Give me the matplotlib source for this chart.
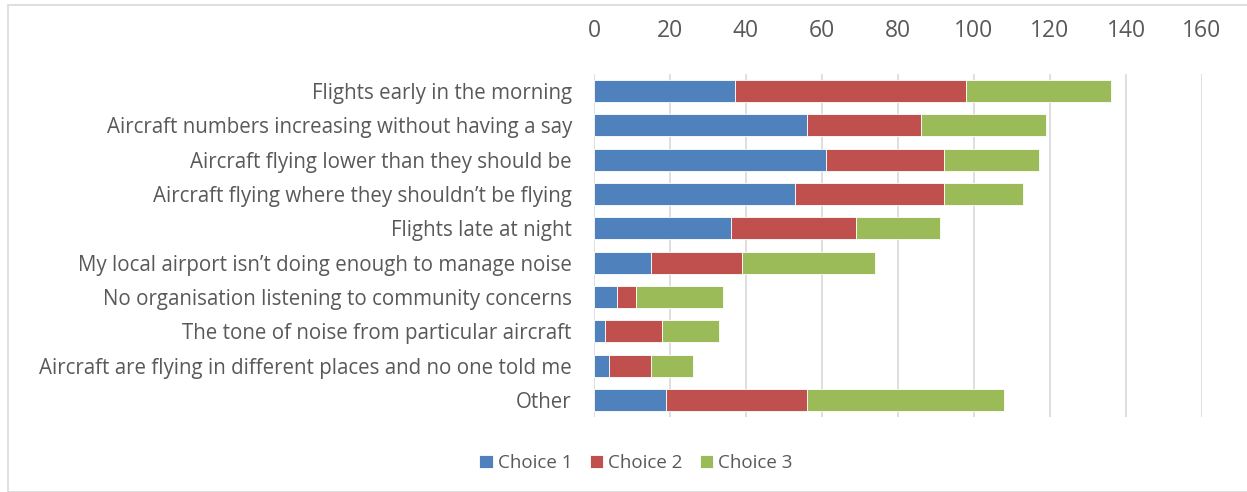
import matplotlib
matplotlib.use("Agg")
import matplotlib.pyplot as plt
from matplotlib.patches import Rectangle
import numpy as np

categories = [
    "Flights early in the morning",
    "Aircraft numbers increasing without having a say",
    "Aircraft flying lower than they should be",
    "Aircraft flying where they shouldn\u2019t be flying",
    "Flights late at night",
    "My local airport isn\u2019t doing enough to manage noise",
    "No organisation listening to community concerns",
    "The tone of noise from particular aircraft",
    "Aircraft are flying in different places and no one told me",
    "Other",
]
choice1 = [37, 56, 61, 53, 36, 15, 6, 3, 4, 19]
choice2 = [61, 30, 31, 39, 33, 24, 5, 15, 11, 37]
choice3 = [38, 33, 25, 21, 22, 35, 23, 15, 11, 52]
series_names = ["Choice 1", "Choice 2", "Choice 3"]
colors = ["#4F81BD", "#C0504D", "#9BBB59"]
xticks = [0, 20, 40, 60, 80, 100, 120, 140, 160]

plt.rcParams['font.family'] = ['Open Sans', 'DejaVu Sans']

W, H = 1247, 492
fig = plt.figure(figsize=(W / 100, H / 100), dpi=100)
ax = fig.add_axes([594 / W, 1 - 417 / H, (1202 - 594) / W, (417 - 74) / H])

y = np.arange(len(categories))
left = np.zeros(len(categories))
for vals, name, c in zip([choice1, choice2, choice3], series_names, colors):
    ax.barh(y, vals, left=left, height=0.64, color=c, label=name,
            edgecolor="white", linewidth=0.6, zorder=3)
    left = left + np.array(vals)

ax.set_xlim(0, 160)
ax.set_ylim(len(categories) - 0.5, -0.5)
ax.set_xticks(xticks)
ax.set_yticks(y)
ax.set_yticklabels(categories, fontsize=14.8, color="#595959")
ax.xaxis.tick_top()
ax.tick_params(axis="x", length=0, pad=22, labelsize=16.5, labelcolor="#595959")
ax.tick_params(axis="y", length=0, pad=16)
ax.grid(axis="x", color="#D9D9D9", linewidth=1.2, zorder=0)
for s in ax.spines.values():
    s.set_visible(False)

fig.legend(loc="center", bbox_to_anchor=(636 / W, 1 - 463 / H), ncol=3,
           frameon=False, fontsize=13.5, labelcolor="#595959",
           handlelength=0.7, handleheight=0.7, handletextpad=0.3, columnspacing=0.9)

fig.patches.append(Rectangle((8 / W, 0.0), 1.0, 1 - 5 / H, transform=fig.transFigure,
                             fill=False, edgecolor="#D9D9D9", linewidth=1.2))

fig.savefig("out.png", dpi=100)
